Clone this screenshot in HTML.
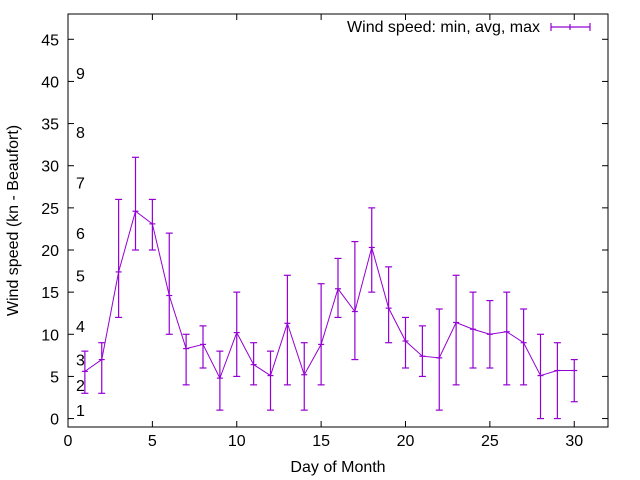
<!DOCTYPE html>
<html><head><meta charset="utf-8"><style>
body{margin:0;background:#fff}
svg{display:block;font-family:"Liberation Sans",sans-serif}
</style></head><body>
<svg id="chart" width="640" height="480" xmlns="http://www.w3.org/2000/svg"></svg>
<script>
const days=[1,2,3,4,5,6,7,8,9,10,11,12,13,14,15,16,17,18,19,20,21,22,23,24,25,26,27,28,29,30];
const avgVals=[5.6,7,17.4,24.6,23.1,14.6,8.3,8.8,4.8,10.2,6.4,5.1,11.3,5.2,8.8,15.4,12.7,20.3,13.1,9.2,7.4,7.2,11.4,10.6,10,10.3,9,5.1,5.7,5.7];
const minVals=[3,3,12,20,20,10,4,6,1,5,4,1,4,1,4,12,7,15,9,6,5,1,4,6,6,4,4,0,0,2];
const maxVals=[8,9,26,31,26,22,10,11,8,15,9,8,17,9,16,19,21,25,18,12,11,13,17,15,14,15,13,10,9,7];
const xTicks=[0,5,10,15,20,25,30];
const yTicks=[0,5,10,15,20,25,30,35,40,45];
const beaufortLevels=[1,4,7,11,17,22,28,34,41];
const beaufortLabels=["1","2","3","4","5","6","7","8","9"];

const L=68,R=608,T=14,B=427,X0=0,X1=32,Y0=-1,Y1=48;
const sx=v=>L+(v-X0)/(X1-X0)*(R-L);
const sy=v=>B-(v-Y0)/(Y1-Y0)*(B-T);
const svg=document.getElementById('chart');
const NS="http://www.w3.org/2000/svg";
function mk(tag,attrs,name){const e=document.createElementNS(NS,tag);for(const k in attrs)e.setAttribute(k,attrs[k]);


svg.appendChild(e);return e;}
function txt(x,y,s,anchor,name,extra){const e=mk('text',Object.assign({x:x,y:y,'font-size':16,'text-anchor':anchor,fill:'#000'},extra||{}),name);e.textContent=s;return e;}

xTicks.forEach(v=>{const x=sx(v);
mk('line',{x1:x,y1:B,x2:x,y2:B-6,stroke:'#000'},'x-tick');
mk('line',{x1:x,y1:T,x2:x,y2:T+6,stroke:'#000'},'x-tick-top');
txt(x,B+19,String(v),'middle','x-tick-label');});
yTicks.forEach(v=>{const y=sy(v);
mk('line',{x1:L,y1:y,x2:L+6,y2:y,stroke:'#000'},'y-tick');
mk('line',{x1:R,y1:y,x2:R-6,y2:y,stroke:'#000'},'y-tick-right');
txt(L-9,y+6,String(v),'end','y-tick-label');});
beaufortLevels.forEach((v,i)=>{txt(76,sy(v)+6,beaufortLabels[i],'start','beaufort-label');});

mk('rect',{x:L,y:T,width:R-L,height:B-T,fill:'none',stroke:'#000'},'plot-frame');
txt(338,472,'Day of Month','middle','x-axis-title');
txt(18,(T+B)/2,'Wind speed (kn - Beaufort)','middle','y-axis-title',{transform:'rotate(-90 18 '+((T+B)/2)+')'});

const C='#9400d3';
let d='';
days.forEach((dd,i)=>{d+=(i?'L':'M')+sx(dd)+' '+sy(avgVals[i]);});
mk('path',{d:d,fill:'none',stroke:C,'stroke-width':1},'avg-line');
days.forEach((dd,i)=>{const x=sx(dd),y1=sy(minVals[i]),y2=sy(maxVals[i]),ya=sy(avgVals[i]);
mk('line',{x1:x,y1:y1,x2:x,y2:y2,stroke:C,'stroke-width':1.2},'error-bar');
mk('line',{x1:x-3.5,y1:y1,x2:x+3.5,y2:y1,stroke:C,'stroke-width':1.2},'error-cap-min');
mk('line',{x1:x-3.5,y1:y2,x2:x+3.5,y2:y2,stroke:C,'stroke-width':1.2},'error-cap-max');
mk('line',{x1:x-3,y1:ya,x2:x+3,y2:ya,stroke:C,'stroke-width':1.2},'avg-point');});

txt(540,32,'Wind speed: min, avg, max','end','legend-label');
mk('line',{x1:551,y1:27,x2:590,y2:27,stroke:C,'stroke-width':1.2},'legend-sample');
mk('line',{x1:551,y1:23,x2:551,y2:31,stroke:C,'stroke-width':1.2},'legend-cap-left');
mk('line',{x1:590,y1:23,x2:590,y2:31,stroke:C,'stroke-width':1.2},'legend-cap-right');
mk('line',{x1:570,y1:24,x2:570,y2:30,stroke:C,'stroke-width':1.2},'legend-mid');
</script>
</body></html>
